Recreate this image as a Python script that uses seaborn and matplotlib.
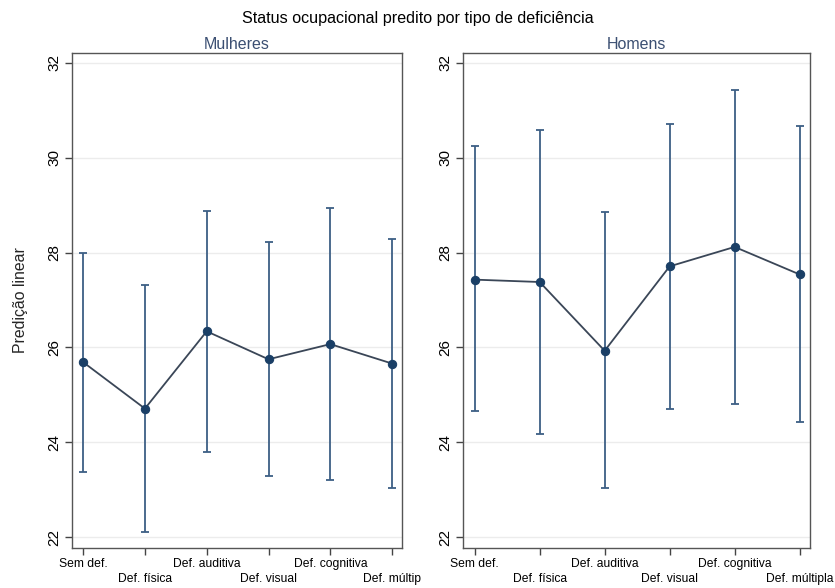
import matplotlib
matplotlib.use("Agg")
import matplotlib.pyplot as plt
import seaborn as sns
import pandas as pd
import numpy as np

categories = ["Sem def.", "Def. física", "Def. auditiva", "Def. visual", "Def. cognitiva", "Def. múltipla"]
labels_mulheres = ["Sem def.", "Def. física", "Def. auditiva", "Def. visual", "Def. cognitiva", "Def. múltip"]
labels_homens = categories

mulheres_pred = [25.69, 24.71, 26.34, 25.75, 26.07, 25.66]
mulheres_low = [23.38, 22.11, 23.80, 23.28, 23.20, 23.04]
mulheres_high = [28.00, 27.31, 28.87, 28.23, 28.95, 28.29]

homens_pred = [27.43, 27.38, 25.93, 27.71, 28.12, 27.54]
homens_low = [24.65, 24.18, 23.03, 24.71, 24.81, 24.43]
homens_high = [30.25, 30.58, 28.85, 30.72, 31.44, 30.66]

yticks = [22, 24, 26, 28, 30, 32]

sns.set_theme(style="white")
plt.rcParams['font.family'] = ['Liberation Sans', 'DejaVu Sans']

fig = plt.figure(figsize=(8.35, 5.88), dpi=100)
fig.patch.set_facecolor("white")

ax1 = fig.add_axes([72/835, 1-548/588, 330/835, 495/588])
ax2 = fig.add_axes([463/835, 1-548/588, 347/835, 495/588])

marker_col = "#1a3f66"
err_col = "#3d5f85"
line_col = "#3a4657"
title_col = "#3b4f72"

panels = [
    (ax1, "Mulheres", mulheres_pred, mulheres_low, mulheres_high, labels_mulheres),
    (ax2, "Homens", homens_pred, homens_low, homens_high, labels_homens),
]

for ax, name, pred, low, high, labs in panels:
    df = pd.DataFrame({"pos": np.arange(len(categories)), "cat": categories,
                       "pred": pred, "low": low, "high": high})
    ax.set_facecolor("white")
    for yv in yticks:
        ax.axhline(yv, color="#ececec", lw=1.0, zorder=0)
    ax.errorbar(df["pos"], df["pred"],
                yerr=[df["pred"] - df["low"], df["high"] - df["pred"]],
                fmt="none", ecolor=err_col, elinewidth=1.3, capsize=2.8,
                capthick=1.3, zorder=2)
    sns.lineplot(data=df, x="pos", y="pred", ax=ax, color=line_col, lw=1.3,
                 marker="o", markersize=6, markerfacecolor=marker_col,
                 markeredgecolor=marker_col, zorder=3)
    ax.set_xlim(-0.18, 5.16)
    ax.set_ylim(21.77, 32.21)
    ax.set_yticks(yticks)
    ax.set_yticklabels([str(v) for v in yticks], rotation=90, va="center", fontsize=11)
    ax.set_xticks(df["pos"])
    staggered = [l if i % 2 == 0 else "\n" + l for i, l in enumerate(labs)]
    ax.set_xticklabels(staggered, fontsize=8.7, linespacing=1.25)
    ax.tick_params(axis="both", direction="out", length=5, width=1, color="#444444",
                   left=True, bottom=True, pad=2.5, labelcolor="black")
    ax.set_xlabel("")
    ax.set_ylabel("")
    for s in ax.spines.values():
        s.set_color("#555555")
        s.set_linewidth(1.0)
    ax.set_title(name, color=title_col, fontsize=11.5, pad=3)

ax1.set_ylabel("Predição linear", fontsize=11.4, labelpad=14)
fig.text(0.5, 1-19/588, "Status ocupacional predito por tipo de deficiência",
         ha="center", va="center", fontsize=11.6, color="black")

fig.savefig("out.png", dpi=100, facecolor="white")
